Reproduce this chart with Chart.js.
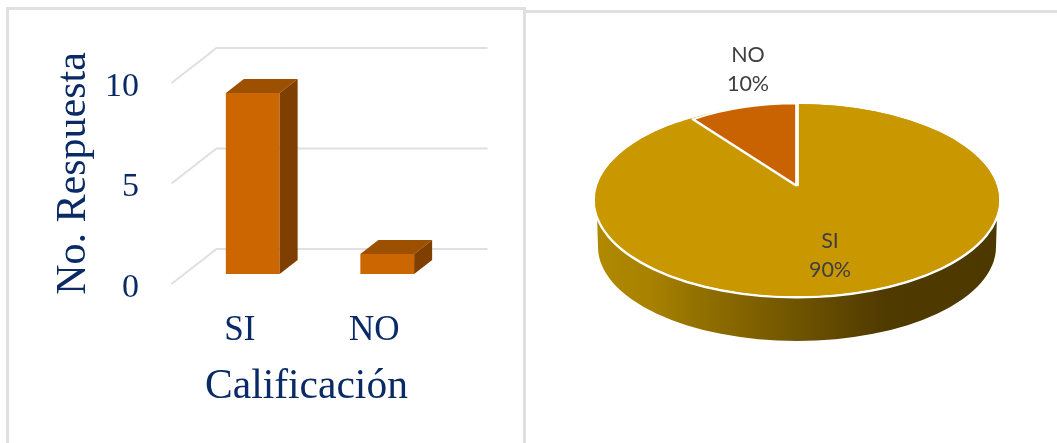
<!DOCTYPE html>
<html>
<head>
<meta charset="utf-8">
<style>
  html, body { margin: 0; padding: 0; background: #fff; overflow: hidden; }
  #stage { position: relative; width: 1057px; height: 443px; }
  #leftFrame { position: absolute; left: 6px; top: 7px; width: 514px; height: 436px;
    border: 3px solid #e0e0e0; border-bottom: 0; }
  #rightLine { position: absolute; left: 526px; top: 10px; width: 531px; height: 3px; background: #e0e0e0; }
  canvas { position: absolute; top: 0; display: block; }
  #bars { left: 0; }
  #pie { left: 524px; }
</style>
</head>
<body>
<div id="stage">
  <div id="leftFrame"></div>
  <div id="rightLine"></div>
  <canvas id="bars" width="524" height="443"></canvas>
  <canvas id="pie" width="533" height="443"></canvas>
</div>
<script src="https://cdn.jsdelivr.net/npm/chart.js@4/dist/chart.umd.min.js"></script>
<script>
const categories = ['SI', 'NO'];
const responses = [9, 1];
const yTicks = [0, 5, 10];
const pieLabels = ['SI', 'NO'];
const piePercent = [90, 10];

const navy = '#0a2a66';
const serif = 'Liberation Serif';

// excel style 3d bits, all hung off the scales
const bars3d = {
  id: 'bars3d',
  beforeDatasetsDraw(chart) {
    const { ctx, scales: { y }, chartArea } = chart;
    ctx.save();
    ctx.strokeStyle = '#e0e0e0';
    ctx.lineWidth = 2;
    yTicks.forEach((v) => {
      const py = y.getPixelForValue(v);
      ctx.beginPath();
      ctx.moveTo(chartArea.left - 14, py + 10);
      ctx.lineTo(chartArea.left + 31, py - 25);
      ctx.lineTo(chartArea.left + 302, py - 25);
      ctx.stroke();
    });
    ctx.restore();
  },
  afterDatasetsDraw(chart) {
    const { ctx, chartArea } = chart;
    const dx = 18;
    const dy = 14;
    ctx.save();
    chart.getDatasetMeta(0).data.forEach((bar) => {
      const l = bar.x - bar.width / 2;
      const r = bar.x + bar.width / 2;
      ctx.fillStyle = '#9c5000';
      ctx.beginPath();
      ctx.moveTo(l, bar.y);
      ctx.lineTo(l + dx, bar.y - dy);
      ctx.lineTo(r + dx, bar.y - dy);
      ctx.lineTo(r, bar.y);
      ctx.closePath();
      ctx.fill();
      ctx.fillStyle = '#7f3f00';
      ctx.beginPath();
      ctx.moveTo(r, bar.y);
      ctx.lineTo(r + dx, bar.y - dy);
      ctx.lineTo(r + dx, bar.base - dy);
      ctx.lineTo(r, bar.base);
      ctx.closePath();
      ctx.fill();
    });
    // x axis title sits left of the plot centre in the original
    ctx.fillStyle = navy;
    ctx.font = '41.5px "' + serif + '"';
    ctx.textAlign = 'center';
    ctx.textBaseline = 'alphabetic';
    ctx.fillText('Calificación', (chartArea.left + chartArea.right) / 2 - 13.5, 398);
    ctx.restore();
  },
};

new Chart(document.getElementById('bars'), {
  type: 'bar',
  data: {
    labels: categories,
    datasets: [{
      data: responses,
      backgroundColor: '#cc6600',
      barPercentage: 0.4,
      categoryPercentage: 1,
    }],
  },
  plugins: [bars3d],
  options: {
    responsive: false,
    animation: false,
    layout: { padding: { top: 73, right: 69.5, left: 0, bottom: 0 } },
    plugins: { legend: { display: false }, tooltip: { enabled: false } },
    scales: {
      x: {
        afterFit: (s) => { s.height = 169; },
        grid: { display: false, drawTicks: false },
        border: { display: false },
        ticks: { color: navy, font: { family: serif, size: 35 }, padding: 36, labelOffset: -13, maxRotation: 0 },
      },
      y: {
        min: 0,
        max: 10,
        afterFit: (s) => { s.width = 185.5; },
        afterBuildTicks: (s) => { s.ticks = yTicks.map((value) => ({ value })); },
        grid: { display: false, drawTicks: false },
        border: { display: false },
        title: {
          display: true,
          text: 'No. Respuesta',
          color: navy,
          font: { family: serif, size: 42 },
          padding: { top: 49, bottom: 0 },
        },
        ticks: { color: navy, font: { family: serif, size: 34 }, padding: 46.5, labelOffset: 14 },
      },
    },
  },
});

// top of the pie is flattened with a ctx transform, the small slice gets
// its own centre because the original has perspective on
const pie3d = {
  id: 'pie3d',
  beforeDatasetsDraw(chart) {
    const { ctx } = chart;
    const arcs = chart.getDatasetMeta(0).data;
    const { x: cx, y: cy, outerRadius: r } = arcs[0];
    const rx = 202;
    const ry = 96;

    const wall = ctx.createLinearGradient(cx - 200, 0, cx + 200, 0);
    wall.addColorStop(0, '#b08900');
    wall.addColorStop(0.13, '#a88200');
    wall.addColorStop(0.26, '#927000');
    wall.addColorStop(0.5, '#6f5400');
    wall.addColorStop(0.72, '#4f3a00');
    wall.addColorStop(1, '#4d3900');

    ctx.save();
    ctx.fillStyle = wall;
    ctx.beginPath();
    ctx.moveTo(cx + rx - 2, cy + 15);
    ctx.lineTo(cx + rx - 3, cy + 47);
    ctx.ellipse(cx, cy + 47, rx - 3, ry - 2, 0, 0, Math.PI);
    ctx.lineTo(cx - rx + 2, cy + 15);
    ctx.closePath();
    ctx.fill();

    // rim goes down first so only its outer half shows
    ctx.fillStyle = '#c99700';
    ctx.strokeStyle = '#fff';
    ctx.lineWidth = 5;
    ctx.beginPath();
    ctx.ellipse(cx, cy, rx, ry, 0, 0, Math.PI * 2);
    ctx.stroke();
    ctx.fill();
    ctx.restore();

    ctx.save();
    ctx.translate(cx, cy);
    ctx.scale(rx / r, ry / r);
    ctx.translate(-cx, -cy);
    arcs[0].draw(ctx);
    ctx.restore();

    ctx.save();
    ctx.translate(cx, cy - 14);
    ctx.scale(177 / r, 82.5 / r);
    ctx.translate(-cx, -cy);
    arcs[1].draw(ctx);
    ctx.restore();

    // slice labels
    const spots = [[33, 41], [-49, -145]];
    ctx.save();
    ctx.fillStyle = '#404040';
    ctx.font = '21.5px Lato';
    ctx.textAlign = 'center';
    ctx.textBaseline = 'middle';
    pieLabels.forEach((label, i) => {
      ctx.fillText(label, cx + spots[i][0], cy + spots[i][1]);
      ctx.fillText(piePercent[i] + '%', cx + spots[i][0], cy + spots[i][1] + 29);
    });
    ctx.restore();
    return false;
  },
};

new Chart(document.getElementById('pie'), {
  type: 'pie',
  data: {
    labels: pieLabels,
    datasets: [{
      data: piePercent,
      backgroundColor: ['#c99700', '#c96200'],
      borderColor: '#fff',
      borderWidth: [0, 2],
    }],
  },
  plugins: [pie3d],
  options: {
    responsive: false,
    animation: false,
    layout: { padding: { top: 103, bottom: 146, left: 176, right: 163 } },
    plugins: { legend: { display: false }, tooltip: { enabled: false } },
  },
});
</script>
</body>
</html>
